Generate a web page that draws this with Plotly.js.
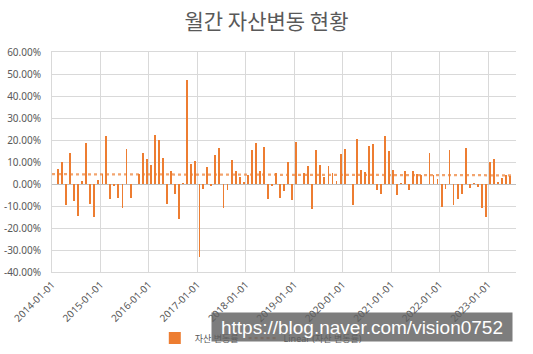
<!DOCTYPE html>
<html>
<head>
<meta charset="utf-8">
<script src="https://cdn.plot.ly/plotly-3.0.1.min.js"></script>
<style>html,body{margin:0;padding:0;background:#fff;}#chart{width:533px;height:354px;}</style>
</head>
<body>
<div id="chart"></div>
<script>
// Monthly asset change rate (%)
const startYear = 2014, startMonth = 2; // first bar: 2014-02
const v2014 = [6.8, 10.0, -9.5, 14.1, -7.7, -14.5, 1.4, 18.6, -9.1, -15.0, 1.8];
const v2015 = [4.5, 21.8, -6.8, -0.9, -6.4, -10.9, 15.9, -6.4, 0, 4.5, 14.1, 11.4];
const v2016 = [8.6, 22.3, 20.0, 11.8, -9.1, 5.9, -4.5, -15.9, 0.5, 47.3, 9.1, 10.5];
const v2017 = [-33.2, -2.3, 7.7, -0.9, 13.2, 16.4, -10.9, -2.7, 10.9, 5.9, 3.2, 0.9];
const v2018 = [4.1, 15.5, 18.6, 5.9, 16.8, -6.8, -0.9, 5.0, -6.4, -3.2, 10.0, -7.3];
const v2019 = [19.1, 0, 5.0, 8.2, -11.4, 15.5, 8.6, 3.2, 8.2, 5.0, 1.4, 13.6];
const v2020 = [15.9, 0, -9.5, 20.5, 6.4, 5.5, 17.3, 18.2, -2.7, -4.5, 21.8, 15.0];
const v2021 = [6.4, -5.0, 0.5, 5.9, -2.7, 5.9, 4.5, 4.1, 0, 14.1, 4.1, 2.3];
const v2022 = [-10.5, -2.3, 15.5, -9.5, -6.8, -4.5, 16.4, -1.8, 0.5, -1.4, -10.9, -15.0];
const v2023 = [10.0, 11.4, 0.9, 2.7, 4.1, 3.6];

// Linear trendline endpoints
const trendDates = ['2014-01-01', '2023-07-01'];
const trendValues = [4.45, 3.95];

const yTicks = [-40, -30, -20, -10, 0, 10, 20, 30, 40, 50, 60];
const yearTicks = ['2014-01-01','2015-01-01','2016-01-01','2017-01-01','2018-01-01',
                   '2019-01-01','2020-01-01','2021-01-01','2022-01-01','2023-01-01'];

const seriesName = '자산 변동률';
const trendName = 'Linear (자산 변동률)';
const titleText = '월간 자산변동 현황';
const watermark = 'https://blog.naver.com/vision0752';

const values = [].concat(v2014, v2015, v2016, v2017, v2018, v2019, v2020, v2021, v2022, v2023);
const dates = [];
let y = startYear, m = startMonth;
for (let i = 0; i < values.length; i++) {
  dates.push(y + '-' + String(m).padStart(2, '0') + '-01');
  m++; if (m > 12) { m = 1; y++; }
}

const grey = '#595959';
const fontFam = 'Noto Sans, Noto Sans CJK KR, sans-serif';

const bars = {
  type: 'bar', name: seriesName, x: dates, y: values,
  xperiod: 'M1', xperiodalignment: 'middle',
  width: 14 * 86400000,
  marker: {color: '#ed7d31', line: {width: 0}},
  hoverinfo: 'x+y'
};
const trend = {
  type: 'scatter', mode: 'lines', name: trendName, x: trendDates, y: trendValues,
  line: {color: 'rgba(237,125,49,0.7)', width: 2.25, dash: 'dot'}
};

const layout = {
  width: 533, height: 354,
  margin: {l: 52, r: 17, t: 52, b: 82, autoexpand: false},
  paper_bgcolor: '#ffffff', plot_bgcolor: '#ffffff',
  font: {family: fontFam, color: grey, size: 10},
  title: {text: titleText, font: {family: 'Noto Sans CJK KR, sans-serif', size: 21, color: grey},
          x: 0.5, xanchor: 'center', y: 0.94, yanchor: 'middle'},
  bargap: 0,
  xaxis: {
    type: 'date', range: ['2014-01-01', '2023-07-31'], automargin: false,
    tickvals: yearTicks, ticktext: yearTicks, tickangle: -45,
    showgrid: true, gridcolor: '#d9d9d9', gridwidth: 1,
    showline: true, mirror: true, linecolor: '#d9d9d9', linewidth: 1,
    ticks: '', zeroline: false, ticklabelstandoff: 2,
    tickfont: {size: 10, color: grey, family: fontFam}
  },
  yaxis: {
    range: [-40, 60], tickvals: yTicks, automargin: false,
    ticktext: yTicks.map(v => v.toFixed(2) + '%'),
    showgrid: true, gridcolor: '#d9d9d9', gridwidth: 1,
    zeroline: true, zerolinecolor: '#bfbfbf', zerolinewidth: 1,
    showline: true, linecolor: '#d9d9d9', linewidth: 1, mirror: false,
    ticks: '', ticklabelstandoff: 8,
    tickfont: {size: 10, color: grey, family: fontFam}
  },
  showlegend: true,
  legend: {orientation: 'h', x: 0.45, xanchor: 'center', y: -0.30, yanchor: 'middle',
           font: {size: 9, color: grey, family: fontFam}, bgcolor: 'rgba(0,0,0,0)',
           itemwidth: 30},
  annotations: [{
    xref: 'paper', yref: 'paper', x: 0.669, y: -0.252, xanchor: 'center', yanchor: 'middle',
    text: watermark, showarrow: false,
    font: {family: 'Liberation Sans, Arial, sans-serif', size: 19, color: '#ffffff'},
    bgcolor: 'rgba(96,96,96,0.82)', width: 300, height: 28, borderpad: 0
  }]
};

Plotly.newPlot('chart', [bars, trend], layout, {staticPlot: true, displayModeBar: false});
</script>
</body>
</html>
